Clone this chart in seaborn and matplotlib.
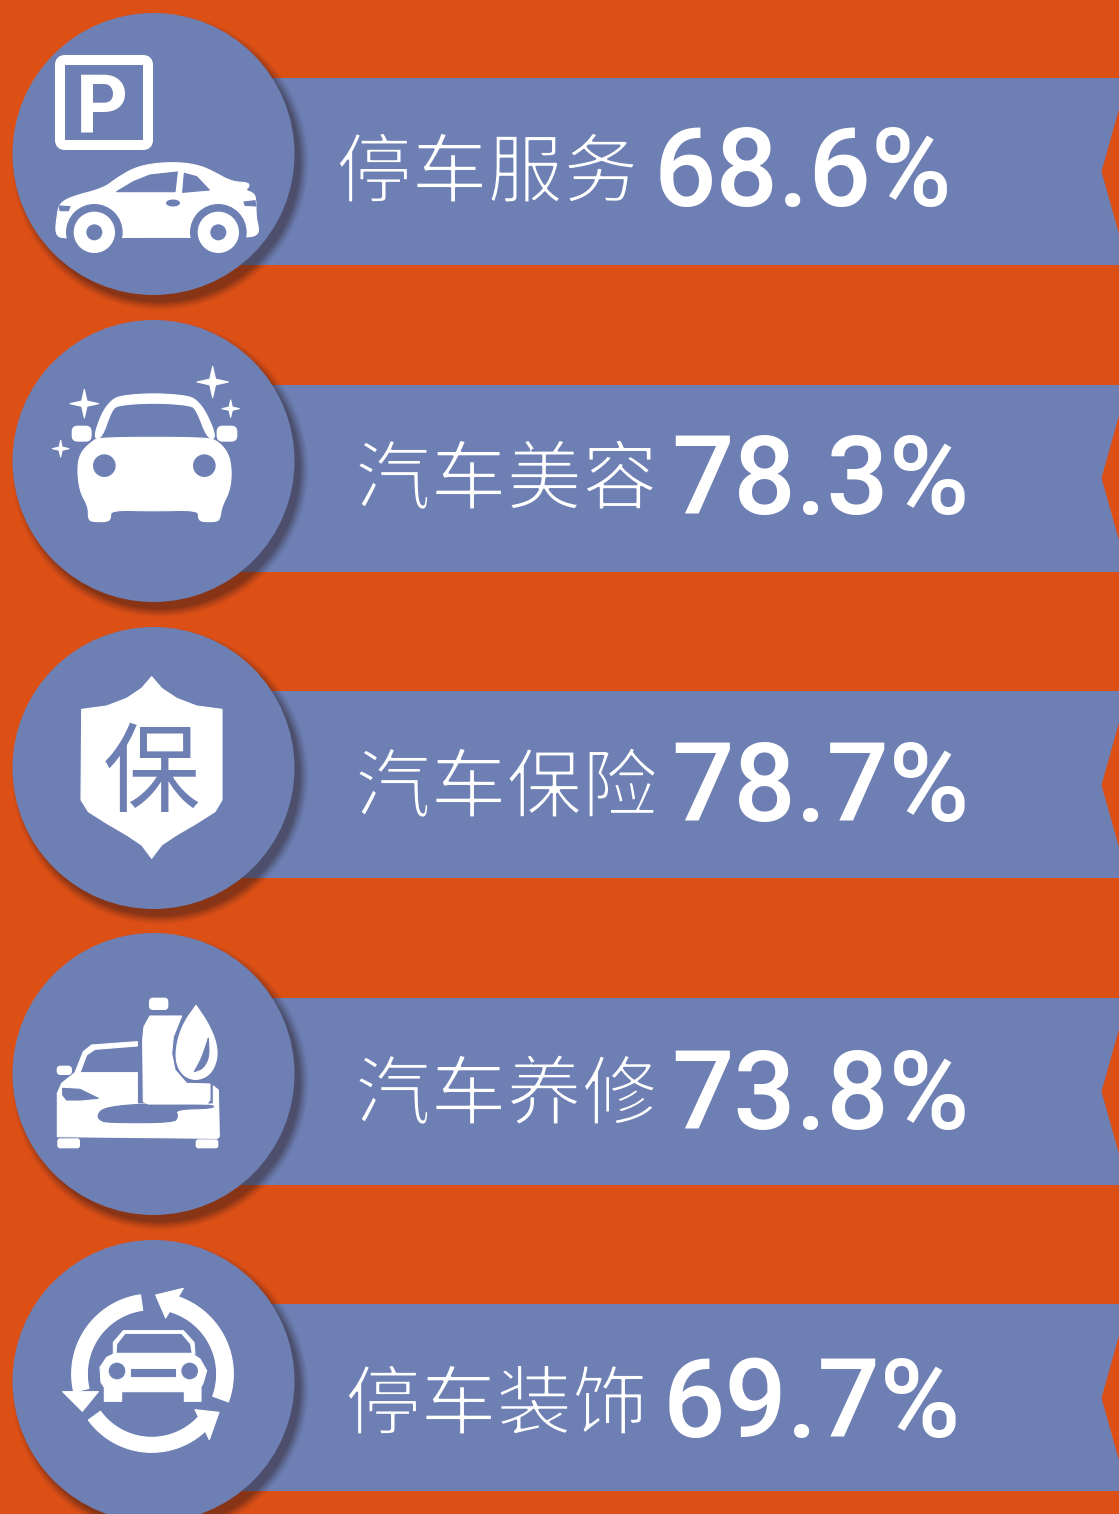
import numpy as np
import pandas as pd
import matplotlib
matplotlib.use("Agg")
import matplotlib.pyplot as plt
import matplotlib.patheffects as pe
from matplotlib.patches import Circle, Polygon, FancyBboxPatch, Ellipse
import seaborn as sns

# ── data ───────────────────────────────────────────────────────────────────────
services = ["停车服务", "汽车美容", "汽车保险", "汽车养修", "停车装饰"]
shares = [68.6, 78.3, 78.7, 73.8, 69.7]
ribbon_full = [100, 100, 100, 100, 100]

# ── colours / layout (pixels of the 1119x1514 canvas) ──────────────────────────
ORANGE = "#DC5016"
BLUE = "#6D7FB3"
W, H = 1119, 1514
RIBBON_LEFT = 200
ROW_TOP = [0, 310, 620, 930, 1234]       # origin of each icon sketch
CIRCLE_Y = [154, 461, 768, 1074, 1381]
RIBBON_Y = [171.5, 478, 785, 1091.5, 1398]
LABEL_X = [336, 355, 355, 355, 345]
LABEL_Y = [175, 482, 790, 1097, 1407]
PCT_X = [654, 671, 671, 671, 663]
PCT_BASE = [206, 514, 821, 1129, 1437]

sns.set_theme(style="white")
plt.rcParams["font.family"] = ["Roboto", "Noto Sans CJK SC", "DejaVu Sans"]

fig = plt.figure(figsize=(W / 100, H / 100), dpi=100, facecolor=ORANGE)

# ── ribbons ────────────────────────────────────────────────────────────────────
ax = fig.add_axes([RIBBON_LEFT / W, 0, 1 - RIBBON_LEFT / W, 1])
df = pd.DataFrame({"service": services, "full": ribbon_full})
sns.barplot(data=df, y="service", x="full", color=BLUE, saturation=1,
            width=0.61, orient="h", linewidth=0, ax=ax)
ax.set_xlim(0, 100)
ax.set_ylim((H - RIBBON_Y[0]) / 306.6, -RIBBON_Y[0] / 306.6)
ax.axis("off")

# ── overlay in pixels ──────────────────────────────────────────────────────────
ov = fig.add_axes([0, 0, 1, 1])
ov.set_xlim(0, W)
ov.set_ylim(H, 0)
ov.axis("off")
ov.patch.set_alpha(0)


def chaikin(points, n=2):
    # corner cutting so the sketched outlines lose their kinks
    pts = np.asarray(points, dtype=float)
    for _ in range(n):
        nxt = np.roll(pts, -1, axis=0)
        pts = np.column_stack([0.75 * pts + 0.25 * nxt, 0.25 * pts + 0.75 * nxt]).reshape(-1, 2)
    return pts


def poly(points, row, color="white", z=5, lw=0.8, smooth=False):
    # points come from the 3x zoom sketches, row origin added here
    if smooth:
        points = chaikin(points)
    pts = [(x / 3, y / 3 + ROW_TOP[row]) for x, y in points]
    ov.add_patch(Polygon(pts, closed=True, fc=color, ec=color, lw=lw,
                         joinstyle="round", zorder=z))


def circ(x, y, r, row, color="white", z=5):
    ov.add_patch(Circle((x / 3, y / 3 + ROW_TOP[row]), r / 3, fc=color, ec="none", zorder=z))


def rbox(x0, y0, x1, y1, row, color="white", z=5, rad=12):
    ov.add_patch(FancyBboxPatch((x0 / 3, y0 / 3 + ROW_TOP[row]), (x1 - x0) / 3, (y1 - y0) / 3,
                                boxstyle=f"round,pad=0,rounding_size={rad / 3}",
                                fc=color, ec="none", zorder=z))


def star(x, y, r, row):
    a = np.arange(8) * np.pi / 4
    rad = np.where(np.arange(8) % 2 == 0, r, r * 0.26)
    poly(list(zip(x + rad * np.cos(a), y + rad * np.sin(a))), row)


def ring_arrow(row, cx, cy, r0, r1, a0, a1, head):
    t = np.radians(np.linspace(a0, a1, 40))
    outer = list(zip(cx + r1 * np.cos(t), cy - r1 * np.sin(t)))
    inner = list(zip(cx + r0 * np.cos(t[::-1]), cy - r0 * np.sin(t[::-1])))
    poly(outer + inner, row)
    poly(head, row)


# notches and discs
for yc in RIBBON_Y:
    ov.add_patch(Polygon([(W + 1, yc - 66), (1101.5, yc), (W + 1, yc + 66)], fc=ORANGE, ec="none", zorder=2))
for yc in CIRCLE_Y:
    for grow, alpha in zip(np.arange(12, -1, -1.5), np.linspace(0.03, 0.10, 9)):
        ov.add_patch(Circle((160, yc + 8), 140 + grow * 0.7, fc="#2A1A20", ec="none", alpha=alpha, zorder=3))
    ov.add_patch(Circle((153.5, yc), 141, fc=BLUE, ec="none", zorder=4))

# icon 1: parking sign and side view car
ov.add_patch(FancyBboxPatch((60, 60), 88, 85, boxstyle="round,pad=0,rounding_size=5",
                            fc="none", ec="white", lw=7.2, zorder=5))
ov.text(76, 132, "P", color="white", fontsize=58, fontweight="bold", family="Roboto", zorder=5)
poly([(165, 705), (172, 640), (180, 610), (215, 590), (310, 565), (350, 535), (400, 505), (460, 490),
      (540, 487), (600, 497), (640, 515), (695, 545), (745, 548), (748, 560), (735, 570), (762, 580),
      (768, 600), (768, 650), (777, 690), (770, 705), (745, 712), (575, 712), (368, 712), (195, 716)], 0, smooth=True)
circ(283, 697, 85, 0, BLUE, 6)
circ(655, 697, 85, 0, BLUE, 6)
circ(283, 697, 62, 0, "white", 7)
circ(655, 697, 62, 0, "white", 7)
circ(283, 697, 24, 0, BLUE, 8)
circ(655, 697, 24, 0, BLUE, 8)
poly([(350, 575), (400, 545), (450, 525), (532, 516), (525, 575)], 0, BLUE, 6)
poly([(553, 520), (590, 530), (628, 570), (548, 577)], 0, BLUE, 6)
ov.add_patch(Ellipse((173, 203), 14, 7, fc=BLUE, ec="none", zorder=6))
poly([(178, 618), (210, 620), (205, 632), (180, 632)], 0, BLUE, 6)
poly([(732, 606), (765, 602), (768, 618), (735, 616)], 0, BLUE, 6)

# icon 2: front view car with sparkles
poly([(275, 395), (300, 382), (620, 382), (655, 395), (685, 430), (695, 480), (690, 540), (665, 590),
      (660, 625), (650, 635), (605, 635), (595, 625), (595, 600), (460, 603), (332, 600), (332, 625),
      (322, 635), (275, 635), (265, 625), (265, 590), (240, 545), (232, 480), (240, 430)], 1, smooth=True)
poly([(280, 385), (305, 310), (335, 270), (365, 257), (460, 250), (560, 257), (590, 270), (620, 310),
      (650, 385), (622, 385), (590, 300), (570, 285), (460, 278), (355, 285), (335, 300), (305, 385)], 1, smooth=True)
rbox(215, 347, 275, 395, 1, rad=18)
rbox(650, 347, 712, 395, 1, rad=18)
circ(313, 467, 34, 1, BLUE, 6)
circ(613, 467, 34, 1, BLUE, 6)
star(253, 281, 43, 1)
star(638, 216, 47, 1)
star(692, 296, 26, 1)
star(182, 416, 25, 1)

# icon 3: shield
poly([(455, 170), (425, 205), (380, 235), (320, 258), (245, 268), (243, 540), (265, 575), (320, 610),
      (380, 645), (425, 675), (455, 715), (485, 675), (530, 645), (590, 610), (645, 575), (666, 540),
      (666, 268), (590, 258), (530, 235), (485, 205)], 2)
ov.text(151.5, 776, "保", color=BLUE, fontsize=70, family="Noto Sans CJK SC", fontweight="medium",
        ha="center", va="center", zorder=6)

# icon 4: car, oil bottle and drop
poly([(172, 490), (185, 460), (225, 428), (412, 428), (412, 522), (640, 522), (640, 468), (655, 480),
      (658, 620), (652, 625), (172, 620)], 3)
poly([(225, 428), (250, 365), (275, 345), (412, 335), (412, 348), (285, 358), (260, 375), (240, 428)], 3)
rbox(170, 407, 216, 435, 3, rad=12)
poly([(292, 558), (305, 538), (350, 528), (430, 522), (640, 524), (640, 535), (525, 538), (535, 560),
      (520, 578), (320, 578), (300, 570)], 3, BLUE, 6, smooth=True)
poly([(188, 475), (240, 478), (295, 505), (240, 510), (200, 510), (188, 495)], 3, BLUE, 6)
rbox(172, 625, 240, 655, 3, rad=8)
rbox(587, 628, 655, 655, 3, rad=8)
poly([(428, 330), (432, 290), (450, 258), (545, 258), (520, 320), (515, 370), (525, 420), (560, 460),
      (630, 462), (630, 510), (620, 522), (445, 522), (430, 515)], 3, "white", 7)
rbox(447, 203, 505, 240, 3, rad=12, z=7)
poly([(588, 226), (588, 226), (588, 226), (625, 280), (650, 340), (652, 390), (630, 435), (588, 452),
      (548, 437), (527, 395), (530, 340), (550, 280)], 3, "white", 8, smooth=True)
poly([(625, 325), (625, 325), (628, 380), (610, 415), (583, 425), (583, 425), (605, 385)], 3, BLUE, 9, smooth=True)

# icon 5: car inside three arrows
ring_arrow(4, 455, 420, 193, 240, 98, 193, [(188, 473), (295, 473), (247, 532)])
ring_arrow(4, 455, 420, 195, 245, -20, 76, [(550, 163), (467, 183), (497, 252)])
ring_arrow(4, 455, 420, 190, 235, 216, 318, [(657, 535), (585, 527), (628, 617)])
poly([(300, 400), (320, 370), (345, 358), (575, 358), (600, 375), (620, 410), (610, 445), (603, 460),
      (603, 502), (553, 502), (553, 473), (365, 473), (365, 502), (313, 502), (313, 460), (303, 445)], 4)
poly([(340, 360), (340, 325), (370, 290), (550, 290), (582, 325), (585, 360), (577, 360), (572, 330),
      (545, 298), (375, 298), (350, 330), (348, 360)], 4)
circ(351, 411, 25, 4, BLUE, 6)
circ(569, 411, 25, 4, BLUE, 6)
poly([(393, 405), (526, 405), (526, 425), (393, 425)], 4, BLUE, 6)

# ── labels ─────────────────────────────────────────────────────────────────────
thin = [pe.Stroke(linewidth=1.6, foreground=BLUE)]
for i, (name, val) in enumerate(zip(services, shares)):
    ov.text(LABEL_X[i], LABEL_Y[i], name, color="white", fontsize=54.5, family="Noto Sans CJK SC",
            fontweight="light", ha="left", va="center", zorder=6, path_effects=thin)
    ov.text(PCT_X[i], PCT_BASE[i], f"{val}%", color="white", fontsize=79, family="Roboto",
            fontweight="medium", ha="left", va="baseline", zorder=6)

fig.savefig("out.png", dpi=100, facecolor=ORANGE)
